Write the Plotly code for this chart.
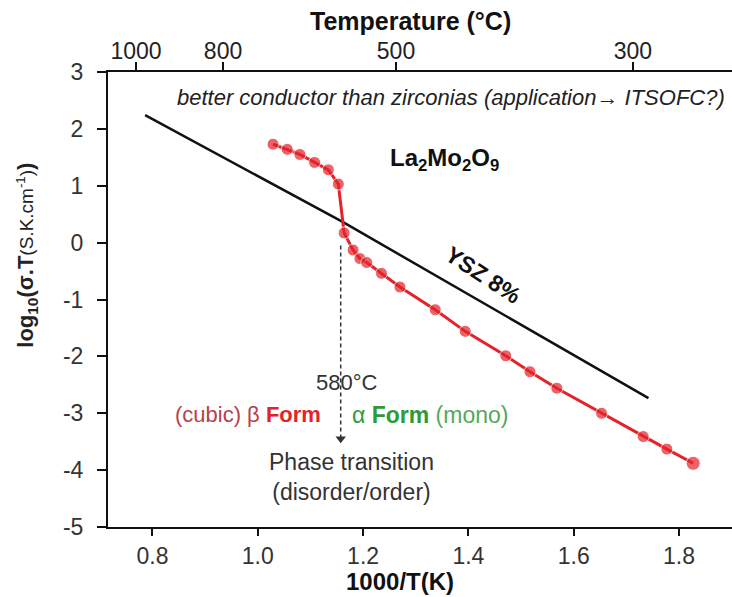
import plotly.graph_objects as go

# La2Mo2O9 data (1000/T, log10(sigma*T))
la_x = [1.029, 1.056, 1.080, 1.108, 1.134, 1.153, 1.164, 1.181, 1.194, 1.207, 1.235,
        1.270, 1.337, 1.394, 1.471, 1.517, 1.568, 1.653, 1.732, 1.777, 1.827]
la_y = [1.73, 1.64, 1.55, 1.41, 1.28, 1.03, 0.17, -0.13, -0.28, -0.35, -0.54,
        -0.78, -1.18, -1.56, -1.99, -2.27, -2.56, -3.00, -3.41, -3.63, -3.88]

# YSZ 8% reference line
ysz_x = [0.786, 1.000, 1.162, 1.742]
ysz_y = [2.24, 1.17, 0.36, -2.735]

# Phase transition marker
trans_x = [1.1575, 1.1575]
trans_y = [-0.05, -3.45]

# Axis ticks
bottom_ticks = [0.8, 1.0, 1.2, 1.4, 1.6, 1.8]
bottom_ticktext = ["0.8", "1.0", "1.2", "1.4", "1.6", "1.8"]
top_tickvals = [0.7687, 0.934, 1.2625, 1.7126]
top_ticktext = ["1000", "800", "500", "300"]
y_ticks = [-5, -4, -3, -2, -1, 0, 1, 2, 3]
y_ticktext = ["-5", "-4", "-3", "-2", "-1", "0", "1", "2", "3"]

FONT = "Liberation Sans, Arial, sans-serif"
RED = "#e3222a"
DARK = "#333333"

fig = go.Figure()

fig.add_trace(go.Scatter(x=ysz_x, y=ysz_y, mode="lines",
                         line=dict(color="#111111", width=2.5), showlegend=False,
                         hoverinfo="skip"))
marker_sizes = [12] * (len(la_x) - 1) + [14]
fig.add_trace(go.Scatter(x=la_x, y=la_y, mode="lines+markers",
                         line=dict(color=RED, width=3),
                         marker=dict(color=RED, size=marker_sizes),
                         showlegend=False))
fig.add_trace(go.Scatter(x=trans_x, y=trans_y, mode="lines",
                         line=dict(color=DARK, width=1.5, dash="4px,3px"),
                         showlegend=False, hoverinfo="skip"))
fig.add_trace(go.Scatter(x=[trans_x[1]], y=[trans_y[1]], mode="markers",
                         marker=dict(symbol="triangle-down", size=9, color=DARK),
                         showlegend=False, hoverinfo="skip"))
# invisible trace for the top axis
fig.add_trace(go.Scatter(x=[top_tickvals[0]], y=[0], xaxis="x2", mode="markers",
                         marker=dict(opacity=0), showlegend=False, hoverinfo="skip"))

xr = [0.7155, 1.9007]
fig.update_layout(
    width=732, height=597,
    margin=dict(l=108, r=0, t=72, b=70),
    paper_bgcolor="white", plot_bgcolor="white",
    font=dict(family=FONT, size=22, color="#222222"),
    xaxis=dict(range=xr, tickvals=bottom_ticks, ticktext=bottom_ticktext,
               showline=True, linecolor="#111111", linewidth=2,
               ticks="outside", ticklen=7, tickwidth=2, tickcolor="#111111",
               showgrid=False, zeroline=False,
               tickfont=dict(size=23, color="#333333")),
    xaxis2=dict(range=xr, overlaying="x", side="top",
                tickvals=top_tickvals, ticktext=top_ticktext,
                showline=True, linecolor="#111111", linewidth=2,
                ticks="outside", ticklen=8, tickwidth=2, tickcolor="#111111",
                ticklabelstandoff=-6,
                showgrid=False, zeroline=False,
                tickfont=dict(size=23, color="#222222")),
    yaxis=dict(range=[-5, 3], tickvals=y_ticks, ticktext=y_ticktext,
               showline=True, linecolor="#111111", linewidth=2,
               ticks="outside", ticklen=9, tickwidth=2, tickcolor="#111111",
               ticklabelstandoff=9,
               showgrid=False, zeroline=False,
               tickfont=dict(size=23, color="#333333")),
)

ann = []
ann.append(dict(text="<b>Temperature (°C)</b>", xref="paper", yref="paper",
                x=(410 - 108) / 624, y=1 + (72 - 21) / 455, xanchor="center",
                yanchor="middle", showarrow=False, font=dict(size=25, color="#111111")))
ann.append(dict(text="<b>1000/T(K)</b>", xref="paper", yref="paper",
                x=(400 - 108) / 624, y=-(581 - 527) / 455, xanchor="center",
                yanchor="middle", showarrow=False, font=dict(size=24, color="#111111")))
ann.append(dict(text="<b>log<sub>10</sub>(σ.T</b><span style='font-size:19px'>(S.K.cm<sup>-1</sup>)</span><b>)</b>",
                xref="paper", yref="y", x=(27 - 108) / 624, y=-0.23,
                xanchor="center", yanchor="middle", textangle=-90, showarrow=False,
                font=dict(size=22, color="#222222")))
ann.append(dict(text="<i>better conductor than zirconias (application→ ITSOFC?)</i>",
                x=0.8427, y=2.543, xanchor="left", yanchor="middle", showarrow=False,
                font=dict(size=22, color="#222222")))
ann.append(dict(text="<b>La<sub>2</sub>Mo<sub>2</sub>O<sub>9</sub></b>",
                x=1.354, y=1.453, xanchor="center", yanchor="middle", showarrow=False,
                font=dict(size=24, color="#111111")))
ann.append(dict(text="<b>YSZ 8%</b>", x=1.428, y=-0.568, xanchor="center",
                yanchor="middle", textangle=33, showarrow=False,
                font=dict(size=23, color="#111111")))
ann.append(dict(text="580°C", x=1.169, y=-2.466, xanchor="center", yanchor="middle",
                showarrow=False, font=dict(size=22, color=DARK)))
ann.append(dict(text="<span style='color:#b8404c'>(cubic) β </span><b><span style='color:#e3222a'>Form</span></b>",
                x=1.1238, y=-3.028, xanchor="right", yanchor="middle", showarrow=False,
                font=dict(size=22)))
ann.append(dict(text="<span style='color:#2f9a3a'>α </span><b><span style='color:#2f9a3a'>Form</span></b><span style='color:#55a85a'> (mono)</span>",
                x=1.175, y=-3.028, xanchor="left", yanchor="middle", showarrow=False,
                font=dict(size=23)))
ann.append(dict(text="Phase transition<br>(disorder/order)", x=1.178, y=-4.127,
                xanchor="center", yanchor="middle", showarrow=False,
                font=dict(size=23, color=DARK)))
fig.update_layout(annotations=ann)

fig.write_html("out.html")
